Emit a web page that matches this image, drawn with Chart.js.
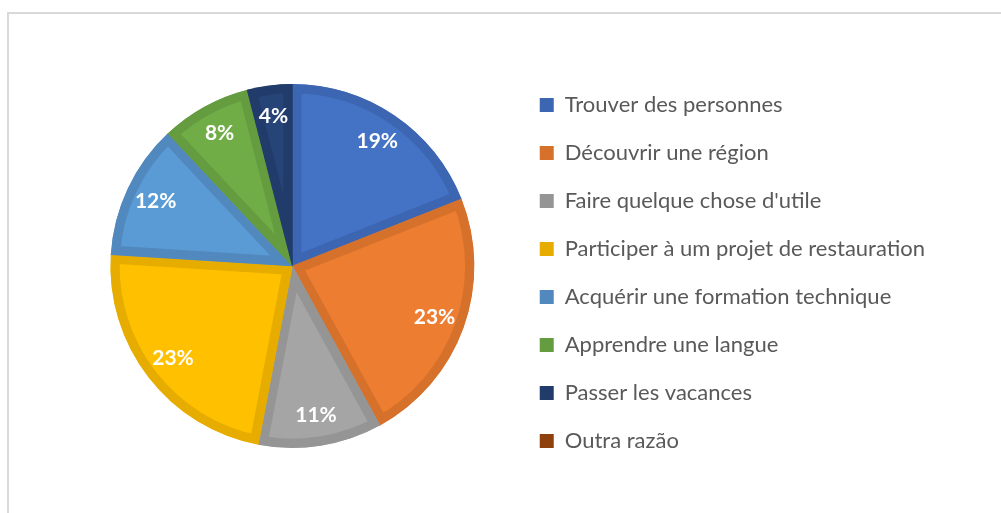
<!DOCTYPE html>
<html>
<head>
<meta charset="utf-8">
<script src="https://cdn.jsdelivr.net/npm/chart.js@4.4.0/dist/chart.umd.min.js"></script>
<style>
    html, body { margin: 0; padding: 0; background: #fff; overflow: hidden; }
    #frame { position: absolute; left: 7px; top: 12px; width: 1000px; height: 510px;
             border-top: 2px solid #d9d9d9; border-left: 2px solid #d9d9d9; }
    #pie { position: absolute; left: 0; top: 0; }
</style>
</head>
<body>
<div id="frame"></div>
<canvas id="pie" width="1001" height="513"></canvas>
<script>
const reasons = [
    'Trouver des personnes',
    'Découvrir une région',
    "Faire quelque chose d'utile",
    'Participer à um projet de restauration',
    'Acquérir une formation technique',
    'Apprendre une langue',
    'Passer les vacances',
    'Outra razão'
];
const shares = [19, 23, 11, 23, 12, 8, 4, 0];

const fillColors = ['#4472c4', '#ed7d31', '#a5a5a5', '#ffc000', '#5b9bd5', '#70ad47', '#264478', '#9e480e'];
const edgeColors = ['#3c66b1', '#d6712c', '#959595', '#e6ad00', '#5189bf', '#659c40', '#213c6b', '#8e410d'];

// white percentage text inside each slice
const sliceLabels = {
    id: 'sliceLabels',
    afterDatasetsDraw(chart) {
        const ctx = chart.ctx;
        const meta = chart.getDatasetMeta(0);
        ctx.save();
        ctx.font = 'bold 21px Lato';
        ctx.fillStyle = '#ffffff';
        ctx.textAlign = 'center';
        ctx.textBaseline = 'middle';
        meta.data.forEach((arc, i) => {
            const value = shares[i];
            if (!value) return;
            const { x, y, startAngle, endAngle, outerRadius } = arc.getProps(['x', 'y', 'startAngle', 'endAngle', 'outerRadius'], true);
            const mid = (startAngle + endAngle) / 2;
            const r = outerRadius * 0.83;
            ctx.fillText(value + '%', x + Math.cos(mid) * r, y + Math.sin(mid) * r);
        });
        ctx.restore();
    }
};

new Chart(document.getElementById('pie'), {
    type: 'pie',
    data: {
        labels: reasons,
        datasets: [{
            data: shares,
            backgroundColor: fillColors,
            borderColor: edgeColors,
            borderWidth: 9,
            borderAlign: 'inner',
            radius: 182
        }]
    },
    options: {
        responsive: false,
        animation: false,
        events: [],
        layout: {
            padding: { left: 71, right: 66, top: 19, bottom: 0 }
        },
        plugins: {
            tooltip: { enabled: false },
            legend: {
                position: 'right',
                align: 'center',
                title: {
                    display: true,
                    text: '',
                    font: { size: 14, lineHeight: 1 },
                    padding: 0
                },
                labels: {
                    boxWidth: 14,
                    boxHeight: 14,
                    padding: 26,
                    color: '#595959',
                    font: { family: 'Lato', size: 22 },
                    generateLabels: () => reasons.map((text, i) => ({
                        text,
                        fillStyle: edgeColors[i],
                        strokeStyle: edgeColors[i],
                        lineWidth: 0,
                        fontColor: '#595959',
                        hidden: false,
                        index: i
                    }))
                }
            }
        }
    },
    plugins: [sliceLabels]
});
</script>
</body>
</html>
